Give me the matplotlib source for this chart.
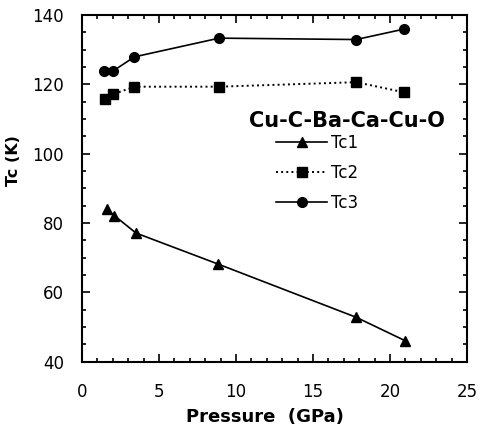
import matplotlib
matplotlib.use("Agg")
import matplotlib.pyplot as plt
from matplotlib.ticker import MultipleLocator

# values
p_tc1 = [1.6, 2.1, 3.5, 8.8, 17.8, 21.0]
tc1 = [84.0, 82.1, 77.1, 68.2, 52.8, 46.0]

p_tc2 = [1.5, 2.0, 3.4, 8.9, 17.8, 20.9]
tc2 = [115.7, 117.1, 119.3, 119.3, 120.6, 117.7]

p_tc3 = [1.4, 2.0, 3.4, 8.9, 17.8, 20.9]
tc3 = [123.8, 123.8, 127.9, 133.3, 132.9, 135.9]

plt.rcParams["font.family"] = ["DejaVu Sans"]

fig = plt.figure(figsize=(4.8, 4.26), dpi=100)
ax = fig.add_axes([0.171, 0.151, 0.802, 0.814])

ax.plot(p_tc1, tc1, "-", color="black", lw=1.2, marker="^", ms=7, label="Tc1")
ax.plot(p_tc2, tc2, ":", color="black", lw=1.4, marker="s", ms=6.5, label="Tc2")
ax.plot(p_tc3, tc3, "-", color="black", lw=1.2, marker="o", ms=7, label="Tc3")

ax.set_xlim(0, 25)
ax.set_ylim(40, 140)
ax.xaxis.set_major_locator(MultipleLocator(5))
ax.xaxis.set_minor_locator(MultipleLocator(1))
ax.yaxis.set_major_locator(MultipleLocator(20))
ax.yaxis.set_minor_locator(MultipleLocator(5))
ax.tick_params(which="both", direction="in", top=True, right=True,
               width=1.2, labelsize=12)
ax.tick_params(axis="x", which="major", pad=15)
ax.tick_params(axis="y", which="major", pad=13)
ax.tick_params(which="major", length=6)
ax.tick_params(which="minor", length=3)
for sp in ax.spines.values():
    sp.set_linewidth(1.5)

ax.set_xlabel("Pressure  (GPa)", fontsize=13, fontweight="bold")
ax.set_ylabel("Tc (K)", fontsize=11.5, fontweight="bold")
ax.xaxis.set_label_coords(0.475, -0.133)
ax.yaxis.set_label_coords(-0.158, 0.579)

ax.text(0.943, 0.693, "Cu-C-Ba-Ca-Cu-O", transform=ax.transAxes,
        ha="right", va="center", fontsize=15, fontweight="bold")
ax.legend(loc="upper left", bbox_to_anchor=(0.504, 0.656), frameon=False,
          fontsize=12, handlelength=3.05, handletextpad=0.25,
          labelspacing=0.7, borderpad=0, borderaxespad=0)

fig.savefig("out.png", dpi=100)
